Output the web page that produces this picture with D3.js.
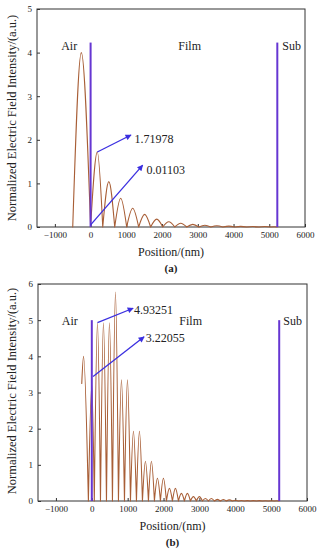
<!DOCTYPE html>
<html>
<head>
<meta charset="utf-8">
<script src="https://cdn.jsdelivr.net/npm/d3@7"></script>
<style>
    body { margin: 0; background: #fff; }
    svg, svg text { font-family: "Liberation Serif", "Times New Roman", Times, serif; }
    svg text { fill: #222; }
</style>
</head>
<body>
<svg id="chart" width="321" height="550"></svg>
<script>
// ---- panel (a): troughs bound each lobe, one peak per lobe
const troughPosA = [-500, 0, 340, 675, 1010, 1345, 1680, 2020, 2355, 2690, 3030, 3365, 3700, 4035, 4370, 4710, 5045, 5225];
const troughValA = [0, 0.011, 0, 0, 0, 0, 0, 0, 0, 0, 0, 0, 0, 0, 0, 0, 0, 0];
const peakPosA = [-260, 188, 510, 842, 1178, 1512, 1850, 2188, 2522, 2860, 3198, 3532, 3868, 4202, 4540, 4878, 5135];
const peakValA = [4.0, 1.72, 1.04, 0.66, 0.43, 0.29, 0.18, 0.12, 0.085, 0.06, 0.04, 0.03, 0.02, 0.015, 0.01, 0.01, 0.005];

// ---- panel (b)
const troughPosB = [-280, -95, 70, 242, 409, 576, 743, 911, 1078, 1245, 1412, 1579, 1746, 1913, 2081, 2248, 2415, 2582, 2749, 2916, 3084, 3251, 3418, 3585, 3752, 3919, 4087, 4254, 4421, 4588, 4755, 4922, 5089, 5225];
const troughValB = [3.25, 0, 0, 0, 0, 0, 0, 0, 0, 0, 0, 0, 0, 0, 0, 0, 0, 0, 0, 0, 0, 0, 0, 0, 0, 0, 0, 0, 0, 0, 0, 0, 0, 0];
const peakPosB = [-230, 0, 158, 325, 492, 660, 827, 994, 1161, 1328, 1495, 1662, 1830, 1997, 2164, 2331, 2498, 2665, 2833, 3000, 3167, 3334, 3501, 3668, 3836, 4003, 4170, 4337, 4504, 4671, 4839, 5006, 5157];
const peakValB = [4.0, 3.22, 4.93, 4.93, 4.93, 5.78, 3.35, 3.35, 1.93, 1.93, 1.1, 1.1, 0.63, 0.63, 0.35, 0.35, 0.21, 0.21, 0.12, 0.12, 0.07, 0.07, 0.045, 0.04, 0.03, 0.02, 0.015, 0.01, 0.01, 0.01, 0.008, 0.005, 0.005];

// ---- shared
const xDomain = [-1500, 6000];
const xTicks = [-1000, 0, 1000, 2000, 3000, 4000, 5000, 6000];
const yTicksA = [0, 1, 2, 3, 4, 5];
const yTicksB = [0, 1, 2, 3, 4, 5, 6];
const interfacePos = [0, 5225];
const regionNames = ['Air', 'Film', 'Sub'];
const regionPosA = [[-600, 4.15], [2773, 4.15], [5628, 4.15]];
const regionPosB = [[-613, 4.98], [2756, 4.98], [5600, 4.98]];
const labelsA = ['1.71978', '0.01103'];
const labelsB = ['4.93251', '3.22055'];
// arrow [from, to, text anchor] in data units
const arrowsA = [[[188, 1.72], [1131, 2.11], [1229, 2.03]], [[0, 0.05], [1458, 1.42], [1565, 1.32]]];
const arrowsB = [[[158, 4.93], [1152, 5.33], [1180, 5.28]], [[36, 3.44], [1458, 4.54], [1506, 4.50]]];

const svg = d3.select('#chart');

svg.append('defs').append('marker')
    .attr('id', 'head')
    .attr('viewBox', '0 0 10 10')
    .attr('refX', 9)
    .attr('refY', 5)
    .attr('markerUnits', 'userSpaceOnUse')
    .attr('markerWidth', 8)
    .attr('markerHeight', 6)
    .attr('orient', 'auto')
    .append('path')
    .attr('d', 'M0,0L10,5L0,10z')
    .attr('fill', '#3b2fe0');

function drawPanel(p) {
    const x = d3.scaleLinear().domain(xDomain).range([p.left, p.right]);
    const y = d3.scaleLinear().domain([0, p.yMax]).range([p.bottom, p.top]);
    const g = svg.append('g');

    // axes, ticks pointing inward
    const xAxis = g.append('g')
        .attr('transform', `translate(0,${p.bottom})`)
        .call(d3.axisBottom(x).tickValues(xTicks).tickFormat(d => String(d).replace('-', '\u2212'))
            .tickSize(-3).tickPadding(5));
    const yAxis = g.append('g')
        .attr('transform', `translate(${p.left},0)`)
        .call(d3.axisLeft(y).tickValues(p.yTicks).tickFormat(d => d).tickSize(-3).tickPadding(5));
    [xAxis, yAxis].forEach((a) => {
        a.attr('font-family', null).attr('font-size', null);
        a.select('.domain').remove();
        a.selectAll('line').attr('stroke', '#333');
        a.selectAll('text').style('font-size', '9px').attr('fill', '#333');
    });

    g.append('rect')
        .attr('x', p.left)
        .attr('y', p.top)
        .attr('width', p.right - p.left)
        .attr('height', p.bottom - p.top)
        .attr('fill', 'none')
        .attr('stroke', '#333')
        .attr('stroke-width', 1);

    // field curve, one smooth hump per lobe
    const line = d3.line()
        .x(d => x(d[0]))
        .y(d => y(d[1]))
        .curve(d3.curveMonotoneX);
    const segs = p.peakPos.map((px, i) => line([
        [p.troughPos[i], p.troughVal[i]],
        [px, p.peakVal[i]],
        [p.troughPos[i + 1], p.troughVal[i + 1]],
    ]));
    g.append('path')
        .attr('d', segs.join(''))
        .attr('fill', 'none')
        .attr('stroke', '#a85e36')
        .attr('stroke-width', 1.1)
        .attr('stroke-linecap', 'round');

    // interfaces
    g.selectAll('.iface')
        .data(interfacePos)
        .enter().append('line')
        .attr('x1', d => x(d))
        .attr('x2', d => x(d))
        .attr('y1', y(0))
        .attr('y2', y(p.lineTop))
        .attr('stroke', '#6636d2')
        .attr('stroke-width', 2);

    g.selectAll('.region')
        .data(regionNames)
        .enter().append('text')
        .attr('x', (d, i) => x(p.regionPos[i][0]))
        .attr('y', (d, i) => y(p.regionPos[i][1]))
        .attr('dy', '0.35em')
        .attr('text-anchor', 'middle')
        .style('font-size', '12px')
        .text(d => d);

    p.arrows.forEach((a, i) => {
        g.append('line')
            .attr('x1', x(a[0][0]))
            .attr('y1', y(a[0][1]))
            .attr('x2', x(a[1][0]))
            .attr('y2', y(a[1][1]))
            .attr('stroke', '#3b2fe0')
            .attr('stroke-width', 1.3)
            .attr('marker-end', 'url(#head)');
        g.append('text')
            .attr('x', x(a[2][0]))
            .attr('y', y(a[2][1]))
            .attr('dy', '0.35em')
            .style('font-size', '12px')
            .text(p.labels[i]);
    });

    g.append('text')
        .attr('x', (p.left + p.right) / 2)
        .attr('y', p.bottom + 29)
        .attr('text-anchor', 'middle')
        .style('font-size', '12px')
        .text('Position/(nm)');

    g.append('text')
        .attr('transform', `translate(16,${p.yLabelMid})rotate(-90)`)
        .attr('text-anchor', 'middle')
        .style('font-size', '12.5px')
        .text('Normalized Electric Field Intensity/(a.u.)');

    g.append('text')
        .attr('x', (p.left + p.right) / 2)
        .attr('y', p.bottom + 45)
        .attr('text-anchor', 'middle')
        .style('font-size', '11px')
        .style('font-weight', 'bold')
        .text(p.caption);
}

drawPanel({
    left: 37, right: 305, top: 9, bottom: 227, yMax: 5, yTicks: yTicksA,
    troughPos: troughPosA, troughVal: troughValA, peakPos: peakPosA, peakVal: peakValA,
    lineTop: 4.23, regionPos: regionPosA, arrows: arrowsA, labels: labelsA,
    yLabelMid: 118, caption: '(a)',
});

drawPanel({
    left: 38, right: 307, top: 284, bottom: 501, yMax: 6, yTicks: yTicksB,
    troughPos: troughPosB, troughVal: troughValB, peakPos: peakPosB, peakVal: peakValB,
    lineTop: 5.0, regionPos: regionPosB, arrows: arrowsB, labels: labelsB,
    yLabelMid: 391, caption: '(b)',
});
</script>
</body>
</html>
